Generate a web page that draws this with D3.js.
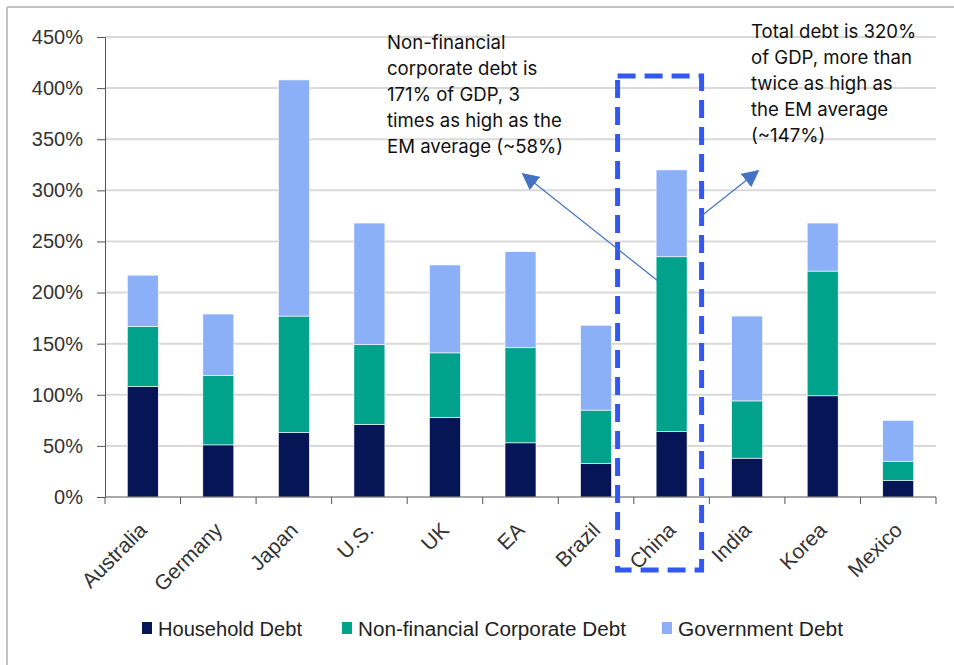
<!DOCTYPE html>
<html>
<head>
<meta charset="utf-8">
<script src="https://cdn.jsdelivr.net/npm/d3@7"></script>
<style>
  html, body { margin: 0; padding: 0; background: #fff; }
  svg { display: block; }
</style>
</head>
<body>
<svg id="chart" width="954" height="665"></svg>
<script>
// Debt as % of GDP by component
const countries = ["Australia", "Germany", "Japan", "U.S.", "UK", "EA", "Brazil", "China", "India", "Korea", "Mexico"];
const household = [108, 51, 63, 71, 78, 53, 33, 64, 38, 99, 16];
const corporate = [59, 68, 114, 78, 63, 93, 52, 171, 56, 122, 19];
const government = [50, 60, 231, 119, 86, 94, 83, 85, 83, 47, 40];
const seriesNames = ["Household Debt", "Non-financial Corporate Debt", "Government Debt"];
const yTicks = [0, 50, 100, 150, 200, 250, 300, 350, 400, 450];
const highlight = "China";
const noteCorporate = ["Non-financial", "corporate debt is", "171% of GDP, 3", "times as high as the", "EM average (~58%)"];
const noteTotal = ["Total debt is 320%", "of GDP, more than", "twice as high as", "the EM average", "(~147%)"];

const colors = ["#061556", "#00a28c", "#8cb0f7"];
const svg = d3.select("#chart");

// frame lines (top and left)
svg.append("line").attr("x1", 7).attr("x2", 954).attr("y1", 7).attr("y2", 7)
  .attr("stroke", "#c4c4c4").attr("stroke-width", 2);
svg.append("line").attr("x1", 7).attr("x2", 7).attr("y1", 7).attr("y2", 665)
  .attr("stroke", "#c4c4c4").attr("stroke-width", 2);

const plotLeft = 105, plotRight = 936, plotTop = 37, plotBottom = 497;

const x = d3.scaleBand().domain(countries).range([plotLeft, plotRight])
  .paddingInner(0.59).paddingOuter(0.295);
const y = d3.scaleLinear().domain([0, 450]).range([plotBottom, plotTop]);

// gridlines
svg.append("g").selectAll("line").data(yTicks.filter(d => d > 0)).join("line")
  .attr("x1", plotLeft).attr("x2", plotRight)
  .attr("y1", d => y(d)).attr("y2", d => y(d))
  .attr("stroke", "#d9d9d9").attr("stroke-width", 2);

// stacked bars
const rows = countries.map((c, i) => ({ country: c, h: household[i], c: corporate[i], g: government[i] }));
const stack = d3.stack().keys(["h", "c", "g"])(rows);
svg.append("g").selectAll("g").data(stack).join("g")
  .attr("fill", (d, i) => colors[i])
  .selectAll("rect").data(d => d).join("rect")
  .attr("x", d => x(d.data.country))
  .attr("width", x.bandwidth())
  .attr("y", d => y(d[1]))
  .attr("height", d => y(d[0]) - y(d[1]))
  .attr("stroke", "#ffffff").attr("stroke-width", 0.6);

// y axis
const yAxis = svg.append("g").attr("transform", `translate(${plotLeft},0)`)
  .call(d3.axisLeft(y).tickValues(yTicks).tickFormat(d => d + "%").tickSize(8).tickPadding(14));
yAxis.select(".domain").attr("stroke", "#555");
yAxis.selectAll(".tick line").attr("stroke", "#555");
yAxis.selectAll("text").attr("font-family", "Liberation Sans, Arial, sans-serif")
  .attr("font-size", 20).attr("fill", "#333");

// x axis baseline with ticks at category boundaries
const xAxis = svg.append("g");
xAxis.append("line").attr("x1", plotLeft).attr("x2", plotRight)
  .attr("y1", plotBottom).attr("y2", plotBottom).attr("stroke", "#555");
xAxis.selectAll("line.tk").data(d3.range(countries.length + 1)).join("line")
  .attr("class", "tk")
  .attr("x1", i => x.range()[0] + i * x.step()).attr("x2", i => x.range()[0] + i * x.step())
  .attr("y1", plotBottom).attr("y2", plotBottom + 7).attr("stroke", "#555");
xAxis.selectAll("text").data(countries).join("text")
  .attr("transform", d => `translate(${x(d) + x.bandwidth() / 2 - 5},${plotBottom + 24}) rotate(-45)`)
  .attr("text-anchor", "end").attr("dy", "0.7em")
  .attr("font-family", "Liberation Sans, Arial, sans-serif").attr("font-size", 21).attr("fill", "#333")
  .text(d => d);

// highlight box around China
const hx = x(highlight) + x.bandwidth() / 2;
svg.append("rect")
  .attr("x", hx - 54).attr("y", 76).attr("width", 84).attr("height", 494)
  .attr("fill", "none").attr("stroke", "#3358f2").attr("stroke-width", 5)
  .attr("stroke-dasharray", "18,9");

// arrows
const defs = svg.append("defs");
defs.append("marker").attr("id", "arrow").attr("viewBox", "0 0 10 10")
  .attr("refX", 9).attr("refY", 5).attr("markerWidth", 17).attr("markerHeight", 17)
  .attr("markerUnits", "userSpaceOnUse").attr("orient", "auto")
  .append("path").attr("d", "M0,0 L10,5 L0,10 z").attr("fill", "#4472c4");

const chinaIdx = countries.indexOf(highlight);
const corpTop = household[chinaIdx] + corporate[chinaIdx];
svg.append("line")
  .attr("x1", x(highlight) + 1).attr("y1", y(corpTop - 23)).attr("x2", 523).attr("y2", 174)
  .attr("stroke", "#4472c4").attr("stroke-width", 1.2).attr("marker-end", "url(#arrow)");
svg.append("line")
  .attr("x1", 700).attr("y1", 217).attr("x2", 758).attr("y2", 171)
  .attr("stroke", "#4472c4").attr("stroke-width", 1.2).attr("marker-end", "url(#arrow)");

// annotation text
function note(lines, x0, y0) {
  svg.append("g").selectAll("text").data(lines).join("text")
    .attr("x", x0).attr("y", (d, i) => y0 + i * 26)
    .attr("font-family", "Inter, Roboto, sans-serif").attr("font-size", 18.6).attr("fill", "#111")
    .text(d => d);
}
note(noteCorporate, 387, 49);
note(noteTotal, 751, 38);

// legend
const legendX = [142, 342, 662];
const legendW = [144, 268, 165];
const lg = svg.append("g");
seriesNames.forEach((name, i) => {
  lg.append("rect").attr("x", legendX[i]).attr("y", 622).attr("width", 10).attr("height", 12).attr("fill", colors[i]);
  lg.append("text").attr("x", legendX[i] + 16).attr("y", 636)
    .attr("font-family", "Liberation Sans, Arial, sans-serif")
    .attr("font-size", 20).attr("fill", "#222")
    .attr("textLength", legendW[i]).attr("lengthAdjust", "spacingAndGlyphs")
    .text(name);
});
</script>
</body>
</html>
